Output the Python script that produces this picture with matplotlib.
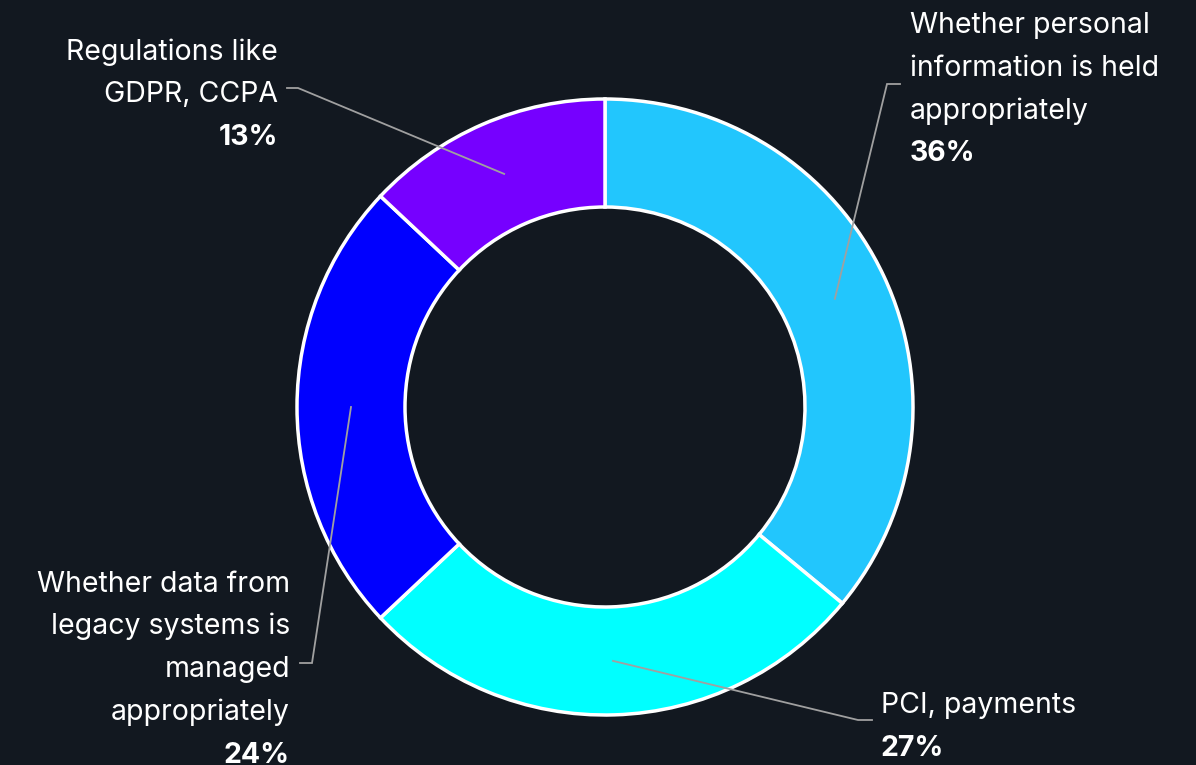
import matplotlib
matplotlib.use("Agg")
import matplotlib.pyplot as plt
import numpy as np

categories = ["Whether personal\ninformation is held\nappropriately",
              "PCI, payments",
              "Whether data from\nlegacy systems is\nmanaged\nappropriately",
              "Regulations like\nGDPR, CCPA"]
values = [36, 27, 24, 13]
colors = ["#22c6fd", "#00ffff", "#0000ff", "#7600ff"]

BG = "#121820"
W, H = 1196, 765
fig = plt.figure(figsize=(W / 100, H / 100), dpi=100, facecolor=BG)
ax = fig.add_axes([0, 0, 1, 1])
ax.set_facecolor(BG)

cx, cy = 605, H - 407
R, ring = 308, 108
wedges, _ = ax.pie(values, colors=colors, startangle=90, counterclock=False,
                   center=(cx, cy), radius=R, frame=True,
                   wedgeprops=dict(width=ring, edgecolor="white", linewidth=2.5))
ax.set_xlim(0, W)
ax.set_ylim(0, H)
ax.set_aspect("equal")
ax.axis("off")

FONT = ["Inter", "DejaVu Sans"]
FS = 20.5
# label layout: (elbow x, elbow y, end x, text x, first baseline y, ha)
layout = [
    (887, H - 84, 900, 910, H - 33, "left"),
    (858, H - 720, 872, 881, H - 713, "left"),
    (312, H - 663, 300, 290, H - 591.5, "right"),
    (298, H - 88, 287, 278, H - 59.5, "right"),
]
LS = 42.8
rm = R - ring / 2
for w, cat, val, (ex, ey, endx, tx, ty, ha) in zip(wedges, categories, values, layout):
    ang = np.deg2rad((w.theta1 + w.theta2) / 2)
    ax_, ay_ = cx + rm * np.cos(ang), cy + rm * np.sin(ang)
    ax.plot([ax_, ex, endx], [ay_, ey, ey], color="#a0a0a0", lw=1.3,
            solid_joinstyle="miter", zorder=5)
    lines = cat.split("\n")
    for i, ln in enumerate(lines):
        ax.text(tx, ty - i * LS, ln, ha=ha, va="baseline", color="white",
                fontsize=FS, family=FONT, fontweight="normal")
    ax.text(tx, ty - len(lines) * LS, f"{val}%", ha=ha, va="baseline",
            color="white", fontsize=FS, family=FONT, fontweight="bold")

fig.savefig("out.png", dpi=100, facecolor=BG)
